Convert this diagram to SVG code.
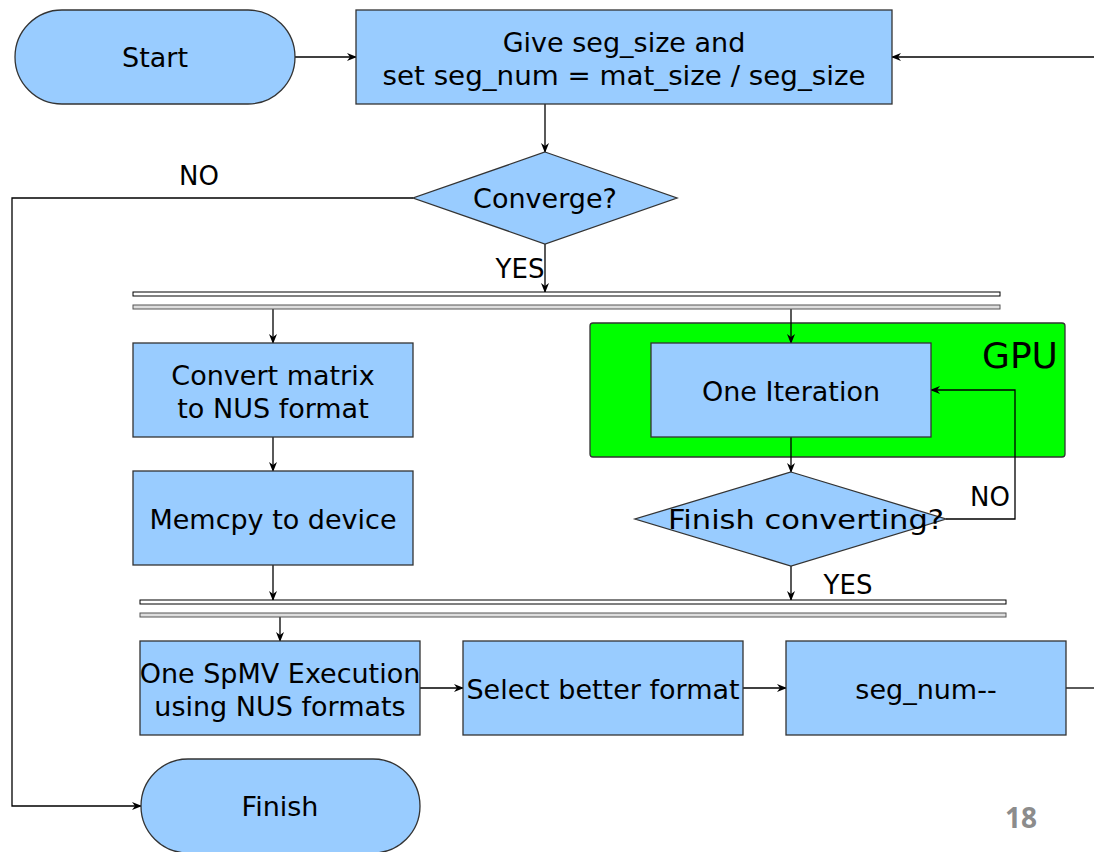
<svg xmlns="http://www.w3.org/2000/svg" width="1094" height="852" viewBox="0 0 1094 852">
<defs>
<marker id="ah" markerWidth="10" markerHeight="8" refX="9" refY="4" orient="auto" markerUnits="userSpaceOnUse">
<path d="M0,0 L10,4 L0,8 L3,4 Z" fill="#000"/>
</marker>
<style>
.n{fill:#99ccff;stroke:#333;stroke-width:1.3}
.t{font-family:"DejaVu Sans",sans-serif;font-size:27px;fill:#000;text-anchor:middle}
.l{font-family:"DejaVu Sans",sans-serif;font-size:26px;fill:#000;text-anchor:middle}
.c{fill:none;stroke:#000;stroke-width:1.3}
.ca{fill:none;stroke:#000;stroke-width:1.3;marker-end:url(#ah)}
</style>
</defs>
<rect width="1094" height="852" fill="#fff"/>
<g id="gpu">
<rect x="590" y="323" width="475" height="134" rx="3" fill="#00ff00" stroke="#333" stroke-width="1.3"/>
<text x="1020" y="368" style="font-family:'DejaVu Sans',sans-serif;font-size:36px;text-anchor:middle">GPU</text>
</g>
<g id="connectors">
<path class="ca" d="M295,57 H356"/>
<path class="ca" d="M1094,57 H892"/>
<path class="ca" d="M545,104 V152"/>
<path class="ca" d="M413,198 H12 V806 H141"/>
<path class="ca" d="M545,244 V292"/>
<path class="ca" d="M273,309 V343"/>
<path class="ca" d="M791,309 V343"/>
<path class="ca" d="M273,437 V471"/>
<path class="ca" d="M791,437 V472"/>
<path class="ca" d="M946,519 H1015 V390 H931"/>
<path class="ca" d="M791,566 V600"/>
<path class="ca" d="M273,565 V600"/>
<path class="ca" d="M280,617 V641"/>
<path class="ca" d="M420,688 H463"/>
<path class="ca" d="M743,688 H786"/>
<path class="c" d="M1066,688 H1094"/>
<text class="l" x="199" y="185">NO</text>
<text class="l" x="520" y="278">YES</text>
<text class="l" x="990" y="506">NO</text>
<text class="l" x="848" y="594">YES</text>
</g>
<g id="bar1">
<rect x="133" y="292" width="867" height="4" fill="#fff" stroke="#000" stroke-width="1"/>
<rect x="133" y="305" width="867" height="4" fill="#ddd" stroke="#555" stroke-width="1"/>
</g>
<g id="bar2">
<rect x="140" y="600" width="866" height="4" fill="#fff" stroke="#000" stroke-width="1"/>
<rect x="140" y="613" width="866" height="4" fill="#ddd" stroke="#555" stroke-width="1"/>
</g>
<g id="start">
<rect class="n" x="15" y="10" width="280" height="94" rx="47"/>
<text class="t" x="155" y="67">Start</text>
</g>
<g id="init">
<rect class="n" x="356" y="10" width="536" height="94"/>
<text class="t" x="624" y="52">Give seg_size and</text>
<text class="t" x="624" y="85" textLength="483" lengthAdjust="spacingAndGlyphs">set seg_num = mat_size / seg_size</text>
</g>
<g id="converge">
<polygon class="n" points="545,152 677,198 545,244 413,198"/>
<text class="t" x="545" y="208">Converge?</text>
</g>
<g id="convert">
<rect class="n" x="133" y="343" width="280" height="94"/>
<text class="t" x="273" y="385">Convert matrix</text>
<text class="t" x="273" y="418">to NUS format</text>
</g>
<g id="memcpy">
<rect class="n" x="133" y="471" width="280" height="94"/>
<text class="t" x="273" y="529">Memcpy to device</text>
</g>
<g id="iteration">
<rect class="n" x="651" y="343" width="280" height="94"/>
<text class="t" x="791" y="401">One Iteration</text>
</g>
<g id="finishconv">
<polygon class="n" points="791,472 946,519 791,566 635,519"/>
<text class="t" x="806" y="529" textLength="276" lengthAdjust="spacingAndGlyphs">Finish converting?</text>
</g>
<g id="spmv">
<rect class="n" x="140" y="641" width="280" height="94"/>
<text class="t" x="280" y="683">One SpMV Execution</text>
<text class="t" x="280" y="716">using NUS formats</text>
</g>
<g id="select">
<rect class="n" x="463" y="641" width="280" height="94"/>
<text class="t" x="603" y="699">Select better format</text>
</g>
<g id="segnum">
<rect class="n" x="786" y="641" width="280" height="94"/>
<text class="t" x="926" y="699">seg_num--</text>
</g>
<g id="finish">
<rect class="n" x="141" y="759" width="279" height="94" rx="47"/>
<text class="t" x="280" y="816">Finish</text>
</g>
<text x="1021" y="828" style="font-family:'Open Sans','Liberation Sans',sans-serif;font-size:28px;font-weight:bold;fill:#8c8c8c;text-anchor:middle">18</text>
</svg>
